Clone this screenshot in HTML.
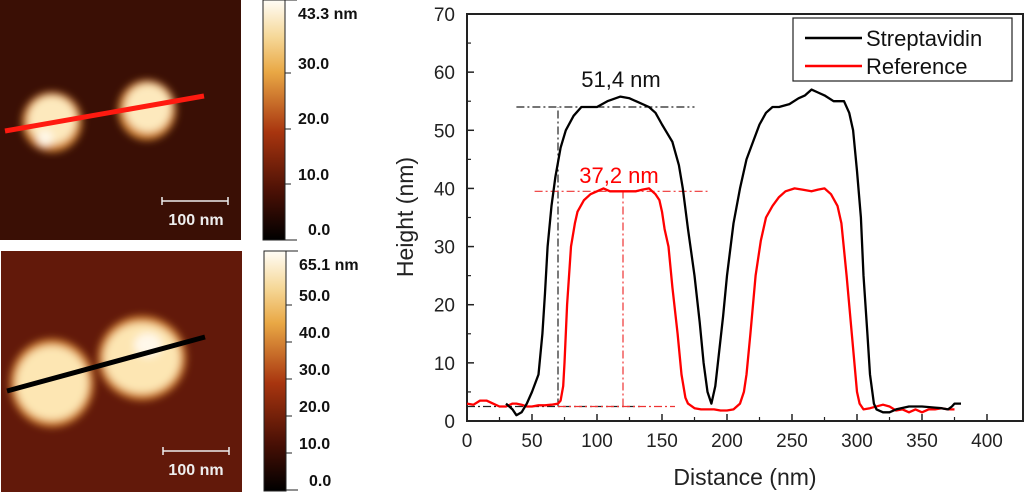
<!DOCTYPE html>
<html><head><meta charset="utf-8"><style>
body{margin:0;width:1024px;height:492px;background:#fff;overflow:hidden;font-family:"Liberation Sans","DejaVu Sans",sans-serif}
svg{position:absolute;left:0;top:0}
</style></head><body>
<svg width="1024" height="492">
<defs>
<linearGradient id="cb" x1="0" y1="1" x2="0" y2="0">
<stop offset="0" stop-color="#000"/><stop offset="0.2" stop-color="#4a1005"/><stop offset="0.45" stop-color="#a8350f"/><stop offset="0.7" stop-color="#e9a845"/><stop offset="0.85" stop-color="#f6d99a"/><stop offset="1" stop-color="#fffdf6"/>
</linearGradient>
<filter id="bl"><feGaussianBlur stdDeviation="4"/></filter>
</defs>
<g>
<rect x="0" y="0" width="241" height="240" fill="#3a0f05"/>
<g filter="url(#bl)">
<ellipse cx="52" cy="122" rx="30" ry="30" fill="#d98a35"/><ellipse cx="147" cy="110" rx="29" ry="30" fill="#d98a35"/>
<ellipse cx="52" cy="120" rx="24" ry="24" fill="#fde9bd"/><ellipse cx="148" cy="108" rx="23" ry="24" fill="#fde9bd"/>
<ellipse cx="45" cy="138" rx="8" ry="8" fill="#fff8e8"/></g>
<line x1="5" y1="131" x2="204" y2="96" stroke="#ff1a10" stroke-width="5"/>
<path d="M162 197v8M162 201h66M228 197v8" stroke="#eee" stroke-width="1.5" fill="none"/>
<text x="196" y="225" font-size="16" font-weight="bold" fill="#eee" text-anchor="middle">100 nm</text>
</g>
<g>
<rect x="1" y="251" width="241" height="241" fill="#62190a"/>
<g filter="url(#bl)">
<ellipse cx="52" cy="383" rx="42" ry="44" fill="#d98a35"/><ellipse cx="142" cy="358" rx="44" ry="42" fill="#d98a35"/>
<ellipse cx="52" cy="383" rx="36" ry="37" fill="#fde6b3"/><ellipse cx="142" cy="358" rx="38" ry="35" fill="#fde6b3"/>
<ellipse cx="148" cy="345" rx="14" ry="12" fill="#fff8ea"/></g>
<line x1="7" y1="391" x2="205" y2="337" stroke="#000" stroke-width="5"/>
<path d="M163 447v8M163 451h66M229 447v8" stroke="#eee" stroke-width="1.5" fill="none"/>
<text x="196" y="475" font-size="16" font-weight="bold" fill="#eee" text-anchor="middle">100 nm</text>
</g>
<g font-size="16" font-weight="bold" fill="#111">
<rect x="263" y="0" width="22" height="240" fill="url(#cb)" stroke="#222"/>
<path d="M285 0h12M285 73h6M285 129h6M285 184h6M285 240h12" stroke="#222"/>
<text x="298" y="19">43.3 nm</text><text x="298" y="69">30.0</text><text x="298" y="124">20.0</text><text x="298" y="180">10.0</text><text x="308" y="235">0.0</text>
</g>
<g font-size="16" font-weight="bold" fill="#111">
<rect x="264" y="251" width="22" height="240" fill="url(#cb)" stroke="#222"/>
<path d="M286 251h12M286 305h6M286 342h6M286 379h6M286 416h6M286 453h6M286 490h12" stroke="#222"/>
<text x="299" y="270">65.1 nm</text><text x="299" y="301">50.0</text><text x="299" y="338">40.0</text><text x="299" y="375">30.0</text><text x="299" y="412">20.0</text><text x="299" y="449">10.0</text><text x="309" y="486">0.0</text>
</g>
<g id="chart"></g>
</svg>
<script>
const xTicks=[0,50,100,150,200,250,300,350,400];
const yTicks=[0,10,20,30,40,50,60,70];
const strepX=[30,35,38,42,46,50,55,58,60,62,65,68,72,76,82,88,95,100,108,118,125,130,140,145,150,158,163,166,170,175,179,182,185,188,191,193,197,200,205,210,215,220,225,230,235,240,248,255,260,265,270,275,282,290,294,297,300,303,305,308,310,313,315,320,325,330,340,350,360,365,370,373,375,380];
const strepY=[3,2,1,1.5,3,5,8,15,22,30,37,42,47,50,52.5,54,54,54,55,55.8,55.5,55,54,53,51,48,44,40,33,25,17,10,5,3,6,10,18,25,34,40,45,48,51,53,54,54,54.5,55.5,56,57,56.5,56,55,55,53,50,43,35,25,15,8,3,2,1.5,1.5,2,2.5,2.5,2.3,2.2,2,2.5,3,3];
const refX=[0,5,10,15,20,25,30,35,38,42,46,50,55,60,65,70,72,74,75,77,80,83,85,90,95,100,105,110,120,130,135,140,145,148,150,152,155,158,162,165,168,170,175,180,190,195,200,205,210,213,215,218,222,226,230,235,240,245,252,258,265,270,275,280,285,288,292,296,300,302,305,310,320,325,330,335,340,345,350,355,360,365,370,375];
const refY=[3,2.8,3.5,3.5,3,2.5,2.5,3,3,2.8,2.5,2.5,2.7,2.7,2.8,3,3.5,6,10,20,30,34,36,38,39,39.5,40,39.5,39.5,39.5,39.8,40,39,38,36,33,30,23,15,8,4,3,2.2,2,2,1.8,1.8,2,3,5,8,15,25,31,35,37,38.5,39.5,40,39.8,39.5,39.8,40,39,37,34,25,15,5,3,2,2.2,2.8,2.5,1.8,2,1.5,2,1.5,2,2,2.2,2,2];
const annX=[70,120];
const annY=[54,39.5,2.5];
const labels=["51,4 nm","37,2 nm"];
const NS="http://www.w3.org/2000/svg";
const g=document.getElementById('chart');
const L=467,R=1023,T=14,B=421;
const sx=d=>L+d*1.3;
const sy=h=>B-(h/70)*(B-T);
function mk(tag,attrs,parent){const e=document.createElementNS(NS,tag);for(const k in attrs)e.setAttribute(k,attrs[k]);(parent||g).appendChild(e);return e;}
let frame=mk('rect',{x:L,y:T,width:R-L,height:B-T,fill:'none',stroke:'#222','stroke-width':2});


xTicks.forEach(t=>{
  let l=mk('line',{x1:sx(t),x2:sx(t),y1:B,y2:B-7,stroke:'#222','stroke-width':1.5});
  
  
  if(t<400){let m=mk('line',{x1:sx(t+25),x2:sx(t+25),y1:B,y2:B-4,stroke:'#222','stroke-width':1.2});
  
  }
  let tx=mk('text',{x:sx(t),y:B+26,'font-size':19,'text-anchor':'middle',fill:'#222'});
  tx.textContent=t;
  
  
});
yTicks.forEach(t=>{
  let l=mk('line',{x1:L,x2:L+7,y1:sy(t),y2:sy(t),stroke:'#222','stroke-width':1.5});
  
  
  if(t<70){let m=mk('line',{x1:L,x2:L+4,y1:sy(t+5),y2:sy(t+5),stroke:'#222','stroke-width':1.2});
  
  }
  let tx=mk('text',{x:L-12,y:sy(t)+7,'font-size':19,'text-anchor':'end',fill:'#222'});
  tx.textContent=t;
  
  
});
let xt=mk('text',{x:745,y:485,'font-size':23,'text-anchor':'middle',fill:'#222'});
xt.textContent='Distance (nm)';


let yt=mk('text',{x:413,y:217,'font-size':23,'text-anchor':'middle',fill:'#222',transform:'rotate(-90 413 217)'});
yt.textContent='Height (nm)';


function dl(x1,y1,x2,y2,c,name){let l=mk('line',{x1,y1,x2,y2,stroke:c,'stroke-width':1.2,'stroke-dasharray':'8 3 2 3'});

}
dl(sx(38),sy(annY[0]),sx(175),sy(annY[0]),'#222','black-top-guide');
dl(sx(annX[0]),sy(annY[2]),sx(annX[0]),sy(annY[0]),'#222','black-vertical-guide');
dl(sx(0),sy(annY[2]),sx(135),sy(annY[2]),'#222','black-base-guide');
dl(sx(52),sy(annY[1]),sx(185),sy(annY[1]),'#e33','red-top-guide');
dl(sx(annX[1]),sy(annY[2]),sx(annX[1]),sy(annY[1]),'#e33','red-vertical-guide');
dl(sx(70),sy(annY[2]),sx(160),sy(annY[2]),'#e33','red-base-guide');
function line(xs,ys,c,name){let d=xs.map((x,i)=>(i?'L':'M')+sx(x).toFixed(1)+' '+sy(ys[i]).toFixed(1)).join('');
let p=mk('path',{d,fill:'none',stroke:c,'stroke-width':2.3,'stroke-linejoin':'round'});

}
line(refX,refY,'#f00','reference-line');
line(strepX,strepY,'#000','streptavidin-line');
let a1=mk('text',{x:621,y:87,'font-size':22,'text-anchor':'middle',fill:'#111'});
a1.textContent=labels[0];


let a2=mk('text',{x:619,y:183,'font-size':22,'text-anchor':'middle',fill:'#f00'});
a2.textContent=labels[1];


let lg=mk('g',{});


mk('rect',{x:793,y:18,width:219,height:63,fill:'#fff',stroke:'#222','stroke-width':1.2},lg);
mk('line',{x1:805,x2:862,y1:38,y2:38,stroke:'#000','stroke-width':2.5},lg);
mk('line',{x1:805,x2:862,y1:66,y2:66,stroke:'#f00','stroke-width':2.5},lg);
let t1=mk('text',{x:866,y:46,'font-size':22,fill:'#111'},lg);t1.textContent='Streptavidin';


let t2=mk('text',{x:866,y:74,'font-size':22,fill:'#111'},lg);t2.textContent='Reference';


</script>
</body></html>
